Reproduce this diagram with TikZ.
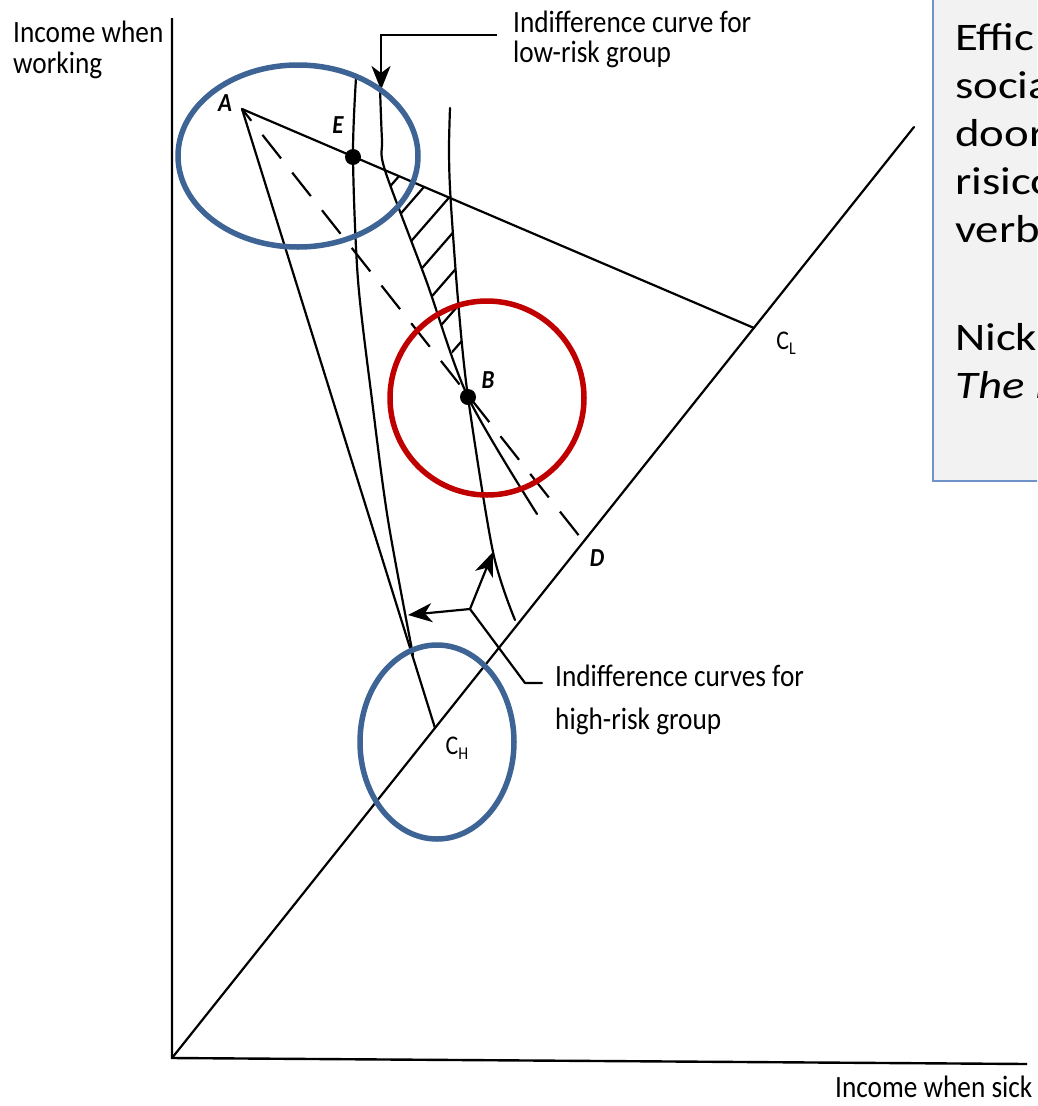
\documentclass[tikz,border=0pt]{standalone}
\usepackage{fontspec}
\setmainfont{Carlito}
\newfontfamily\labfont[FakeStretch=0.88]{Carlito}
\newfontfamily\boxfont[FakeStretch=1.2]{Carlito}
\usetikzlibrary{arrows.meta,calc}
\definecolor{ringblue}{HTML}{3D6494}
\definecolor{ringred}{HTML}{C00000}
\definecolor{boxline}{HTML}{6F92C9}
\definecolor{boxfill}{HTML}{F2F2F2}
\newcommand\twolines[3]{\vtop{\baselineskip=#1\hbox{#2}\hbox{#3}}}
\tikzset{
  ln/.style={line width=2.2pt, line cap=round, line join=round},
  axisln/.style={line width=2.4pt},
  dsh/.style={line width=2.2pt, dash pattern=on 30pt off 18pt, dash phase=15pt},
  ring/.style={line width=5.5pt},
  arr/.style={line width=2.2pt, -{Stealth[length=24pt,width=19pt,inset=7pt]}},
  lab/.style={font=\labfont\fontsize{31}{31}\selectfont, inner sep=0pt, anchor=base west},
  ptlab/.style={font=\labfont\bfseries\itshape\fontsize{26}{26}\selectfont, inner sep=0pt},
  clab/.style={font=\labfont\fontsize{27}{27}\selectfont, inner sep=0pt},
  notetxt/.style={font=\boxfont\fontsize{39}{39}\selectfont, inner sep=0pt, anchor=base west},
  dot/.style={circle, fill=black, inner sep=0pt, minimum size=16pt}
}
\begin{document}
\begin{tikzpicture}[x=1pt,y=-1pt]
\useasboundingbox (0,0) rectangle (1037,1106);
\fill[white] (0,0) rectangle (1037,1106);
\begin{scope}
\clip (0,0) rectangle (1037,1106);
% key points
\coordinate (O) at (172,1058);
\coordinate (YT) at (172,18);
\coordinate (XR) at (1027,1064);
\coordinate (T) at (914,127);
\coordinate (A) at (242,109);
\coordinate (CL) at (754,328);
\coordinate (D) at (584,542);
\coordinate (CH) at (435,728);
\coordinate (LRtop) at (381,90);
\coordinate (J) at (470,609);
\coordinate (HRa) at (408,615);
\coordinate (HRb) at (493,552);
% text box
\fill[boxfill] (933,-10) rectangle (1060,481);
\draw[boxline, line width=2pt] (933,-10) rectangle (1060,481);
\node[notetxt] (note) at (955,50) {\vtop{\baselineskip=48pt
  \hbox{Effic}\hbox{socia}\hbox{door}\hbox{risico}\hbox{verb}\vskip 60pt
  \hbox{Nick}\hbox{\itshape The E}}};
% axes
\draw[axisln] (YT) -- (O) -- (XR);
\draw[ln] (O) -- (T);
% budget lines
\draw[ln] (A) -- (CL);
\draw[ln] (A) -- (CH);
\draw[dsh] (A) -- (D);
% hatching
\begin{scope}
\clip plot[smooth] coordinates {(385,170.3) (426,280) (468,397)} -- plot[smooth] coordinates {(468,397) (458,300) (450.5,197.3)} -- cycle;
\foreach \c in {635,674.5,714,753.5,793,832.5,872}
  \draw[ln] (350,{\c-402.5}) -- (520,{\c-598});
\end{scope}
% indifference curves
\draw[ln] plot[smooth] coordinates {(356,78) (353,157) (358,280) (372,400) (388,520) (413,655)};
\draw[ln] plot[smooth] coordinates {(380,88) (382,140) (385,170.3) (426,280) (468,397) (537,514)};
\draw[ln] plot[smooth] coordinates {(450,108) (449,150) (450.5,197.3) (458,300) (468,397) (493,552) (515,620)};
% dots
\node[dot] (E) at (353,157) {};
\node[dot] (B) at (468,397) {};
% labels
\node[lab] (ylab) at (13,42) {\twolines{31pt}{Income when}{working}};
\node[lab] (xlab) at (835,1097) {Income when sick};
\node[lab] (low) at (513,32) {\twolines{30pt}{Indifference curve for}{low-risk group}};
\node[lab] (high) at (555,686) {\twolines{43pt}{Indifference curves for}{high-risk group}};
\node[ptlab] (Alab) at (225,103.5) {A};
\node[ptlab] (Elab) at (338,125) {E};
\node[ptlab] (Blab) at (488,380) {B};
\node[ptlab] (Dlab) at (597,558) {D};
\node[clab] (CLlab) at (786,343) {C\raisebox{-5pt}{\fontsize{18}{18}\selectfont L}};
\node[clab] (CHlab) at (457,748) {C\raisebox{-5pt}{\fontsize{18}{18}\selectfont H}};
% connectors
\draw[arr] ($(low.base west)+(-16,3)$) -| (LRtop);
\draw[ln] ($(high.base west)+(-13,-3)$) -- ++(-17,0) -- (J);
\draw[arr] (J) -- (HRa);
\draw[arr] (J) -- (HRb);
% highlight rings
\draw[ring, ringblue] (298,156) ellipse [x radius=120pt, y radius=91pt];
\draw[ring, ringred] (487,398) circle [radius=97pt];
\draw[ring, ringblue] (437,742) ellipse [x radius=77pt, y radius=97pt];
\end{scope}
\end{tikzpicture}
\end{document}
